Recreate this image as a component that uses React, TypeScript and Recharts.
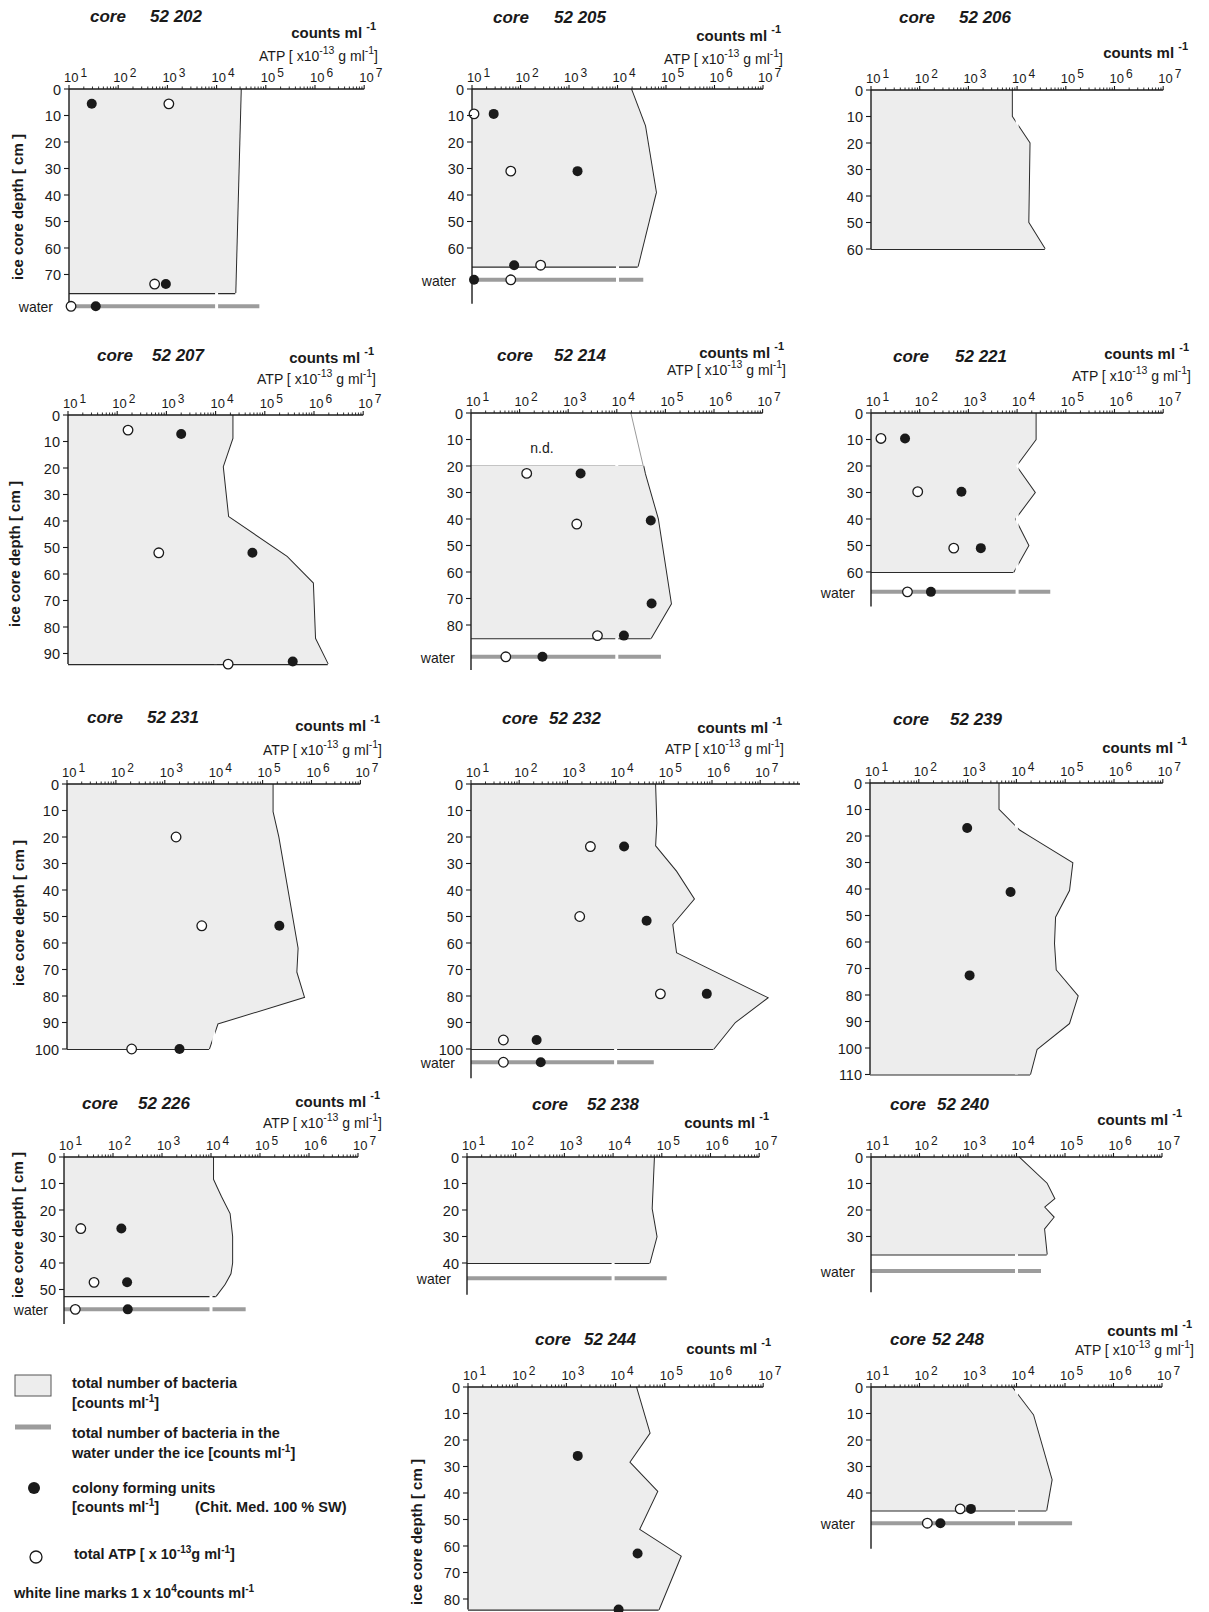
import React from 'react'
import { ComposedChart, Area, Line, Scatter, XAxis, YAxis, ReferenceLine } from 'recharts'

type Pair = [number, number] // [depth cm, value]
type Water = { bact: number; cfu?: number; atp?: number }

// core 52 202
const bact52202: Pair[] = [[0, 3.1e4], [77, 2.4e4]]
const cfu52202: Pair[] = [[5.6, 29], [73.6, 930]]
const atp52202: Pair[] = [[5.6, 1070], [73.6, 550]]
const water52202: Water = { bact: 7.4e4, cfu: 35, atp: 11 }

// core 52 205
const bact52205: Pair[] = [[0, 1.9e4], [14, 3.7e4], [39, 6.2e4], [67, 2.6e4]]
const cfu52205: Pair[] = [[9.4, 28], [31, 1500], [66.5, 74]]
const atp52205: Pair[] = [[9.4, 11], [31, 63], [66.5, 260]]
const water52205: Water = { bact: 3.4e4, cfu: 11, atp: 63 }

// core 52 206
const bact52206: Pair[] = [[0, 7.8e3], [10, 7.8e3], [20, 1.8e4], [50, 1.7e4], [60, 3.7e4]]

// core 52 207
const bact52207: Pair[] = [[0, 2.2e4], [8.8, 2.2e4], [19.5, 1.4e4], [38.4, 1.8e4], [53.5, 2.8e5], [63.5, 9.5e5], [84.3, 1.05e6], [94, 1.9e6]]
const cfu52207: Pair[] = [[7.2, 2000], [52, 5.6e4], [93, 3.7e5]]
const atp52207: Pair[] = [[5.7, 166], [52, 700], [94, 1.8e4]]

// core 52 214 (upper 20 cm n.d.)
const upper52214: Pair[] = [[0, 1.95e4], [20, 3.5e4]]
const bact52214: Pair[] = [[20, 3.5e4], [23, 3.8e4], [40, 7e4], [72, 1.3e5], [85, 5e4]]
const cfu52214: Pair[] = [[22.8, 1800], [40.6, 5e4], [71.9, 5.2e4], [84, 1.4e4]]
const atp52214: Pair[] = [[22.8, 140], [41.9, 1500], [84, 4000]]
const water52214: Water = { bact: 8.1e4, cfu: 295, atp: 52 }

// core 52 221
const bact52221: Pair[] = [[0, 2.4e4], [10, 2.4e4], [20, 9.5e3], [30, 2.3e4], [40, 9e3], [50, 1.7e4], [60, 8.4e3]]
const cfu52221: Pair[] = [[9.6, 50], [29.7, 720], [51, 1800]]
const atp52221: Pair[] = [[9.6, 16], [29.7, 91], [51, 500]]
const water52221: Water = { bact: 4.8e4, cfu: 170, atp: 56 }

// core 52 231
const bact52231: Pair[] = [[0, 1.6e5], [10.5, 1.6e5], [20, 2.1e5], [62, 5.2e5], [71, 4.9e5], [80.4, 7e5], [90.4, 1.2e4], [100, 8e3]]
const cfu52231: Pair[] = [[53.5, 2.2e5], [100, 2000]]
const atp52231: Pair[] = [[20, 1700], [53.5, 5700], [100, 210]]

// core 52 232
const bact52232: Pair[] = [[0, 6.6e4], [14.8, 7e4], [23.4, 6.6e4], [33, 1.8e5], [43.4, 4.2e5], [53, 1.5e5], [63.8, 1.8e5], [80.7, 1.4e7], [89.9, 3e6], [100, 1.07e6]]
const cfu52232: Pair[] = [[23.6, 1.5e4], [51.6, 4.4e4], [79.2, 7.8e5], [96.6, 230]]
const atp52232: Pair[] = [[23.6, 3000], [50, 1800], [79.2, 8.5e4], [96.6, 47]]
const water52232: Water = { bact: 6.2e4, cfu: 280, atp: 47 }

// core 52 239
const bact52239: Pair[] = [[0, 4300], [10, 4300], [17.9, 1.15e4], [20.4, 1.9e4], [30.2, 1.4e5], [40.5, 1.2e5], [50.6, 6.2e4], [60.6, 5.9e4], [70.6, 6.4e4], [80.4, 1.8e5], [90.7, 1.2e5], [100.5, 2.6e4], [110, 1.9e4]]
const cfu52239: Pair[] = [[17, 980], [41.1, 7600], [72.6, 1100]]

// core 52 226
const bact52226: Pair[] = [[0, 1.1e4], [8.5, 1.1e4], [11.4, 1.3e4], [15, 1.6e4], [21.4, 2.4e4], [30, 2.7e4], [40, 2.7e4], [44, 2.5e4], [48, 1.9e4], [52.5, 1.25e4]]
const cfu52226: Pair[] = [[27, 148], [47.3, 194]]
const atp52226: Pair[] = [[27, 22], [47.3, 41]]
const water52226: Water = { bact: 5.1e4, cfu: 200, atp: 17 }

// core 52 238
const bact52238: Pair[] = [[0, 6.9e4], [19.5, 6.2e4], [30.1, 7.8e4], [40, 5.6e4]]
const water52238: Water = { bact: 1.26e5 }

// core 52 240
const bact52240: Pair[] = [[0, 1.1e4], [10, 4.2e4], [15.7, 6e4], [18.9, 3.7e4], [22.7, 5.8e4], [27.1, 3.7e4], [36.8, 4.2e4]]
const water52240: Water = { bact: 3.2e4 }

// core 52 244
const bact52244: Pair[] = [[0, 2.6e4], [17.4, 4.9e4], [28.4, 1.9e4], [39.4, 7e4], [53.8, 3e4], [63.9, 2.1e5], [84, 7.5e4]]
const cfu52244: Pair[] = [[26, 1700], [62.8, 2.8e4], [84, 1.15e4]]

// core 52 248
const bact52248: Pair[] = [[0, 8e3], [10.6, 2.2e4], [35, 5.3e4], [46.6, 4.1e4]]
const cfu52248: Pair[] = [[46, 1150]]
const atp52248: Pair[] = [[46, 690]]
const water52248: Water = { bact: 1.4e5, cfu: 270, atp: 145 }

const FONT = '"Liberation Sans", Arial, Helvetica, sans-serif'
const INK = '#1a1a1a'
const FILL = '#ededed'
const PX_CM = 2.65
const YW = 62
const XH = 30
const RM = 26

interface Panel {
  core: string
  bact: Pair[]
  upper?: Pair[]
  cfu?: Pair[]
  atp?: Pair[]
  water?: Water
  left: number
  top: number
  decade: number
  depthMax: number
  yTickMax: number
  waterAt?: number
  xMax?: number
  coreX: number
  numX: number
  titleY: number
  unitsX: number
  countsY: number
  atpY?: number
  yLabel?: [number, number]
  note?: [string, number, number]
}

const panels: Panel[] = [
  { core: '52 202', bact: bact52202, cfu: cfu52202, atp: atp52202, water: water52202, left: 69, top: 89, decade: 49.2, depthMax: 83, yTickMax: 70, waterAt: 82, coreX: 90, numX: 150, titleY: 16, unitsX: 376, countsY: 32, atpY: 56, yLabel: [17, 207] },
  { core: '52 205', bact: bact52205, cfu: cfu52205, atp: atp52205, water: water52205, left: 472, top: 89, decade: 48.5, depthMax: 81, yTickMax: 60, waterAt: 72, coreX: 493, numX: 554, titleY: 17, unitsX: 781, countsY: 35, atpY: 59 },
  { core: '52 206', bact: bact52206, left: 871, top: 90, decade: 48.7, depthMax: 60, yTickMax: 60, coreX: 899, numX: 959, titleY: 17, unitsX: 1188, countsY: 52 },
  { core: '52 207', bact: bact52207, cfu: cfu52207, atp: atp52207, left: 68, top: 415, decade: 49.2, depthMax: 94, yTickMax: 90, coreX: 97, numX: 152, titleY: 355, unitsX: 374, countsY: 357, atpY: 379, yLabel: [14, 554] },
  { core: '52 214', bact: bact52214, upper: upper52214, cfu: cfu52214, atp: atp52214, water: water52214, left: 471, top: 413, decade: 48.6, depthMax: 97, yTickMax: 80, waterAt: 92, coreX: 497, numX: 554, titleY: 355, unitsX: 784, countsY: 352, atpY: 370, note: ['n.d.', 542, 448] },
  { core: '52 221', bact: bact52221, cfu: cfu52221, atp: atp52221, water: water52221, left: 871, top: 413, decade: 48.7, depthMax: 73, yTickMax: 60, waterAt: 67.5, coreX: 893, numX: 955, titleY: 356, unitsX: 1189, countsY: 353, atpY: 376 },
  { core: '52 231', bact: bact52231, cfu: cfu52231, atp: atp52231, left: 67, top: 784, decade: 48.9, depthMax: 100, yTickMax: 100, coreX: 87, numX: 147, titleY: 717, unitsX: 380, countsY: 725, atpY: 750, yLabel: [18, 913] },
  { core: '52 232', bact: bact52232, cfu: cfu52232, atp: atp52232, water: water52232, left: 471, top: 784, decade: 48.2, depthMax: 111, yTickMax: 100, waterAt: 105, xMax: 6.7e7, coreX: 502, numX: 549, titleY: 718, unitsX: 782, countsY: 727, atpY: 749 },
  { core: '52 239', bact: bact52239, cfu: cfu52239, left: 870, top: 783, decade: 48.8, depthMax: 110, yTickMax: 110, coreX: 893, numX: 950, titleY: 719, unitsX: 1187, countsY: 747 },
  { core: '52 226', bact: bact52226, cfu: cfu52226, atp: atp52226, water: water52226, left: 64, top: 1157, decade: 49, depthMax: 63, yTickMax: 50, waterAt: 57.5, coreX: 82, numX: 138, titleY: 1103, unitsX: 380, countsY: 1101, atpY: 1123, yLabel: [17, 1225] },
  { core: '52 238', bact: bact52238, water: water52238, left: 467, top: 1157, decade: 48.7, depthMax: 52, yTickMax: 40, waterAt: 45.8, coreX: 532, numX: 587, titleY: 1104, unitsX: 769, countsY: 1122 },
  { core: '52 240', bact: bact52240, water: water52240, left: 871, top: 1157, decade: 48.5, depthMax: 51, yTickMax: 30, waterAt: 43, coreX: 890, numX: 937, titleY: 1104, unitsX: 1182, countsY: 1119 },
  { core: '52 244', bact: bact52244, cfu: cfu52244, left: 468, top: 1387, decade: 49.2, depthMax: 84, yTickMax: 80, coreX: 535, numX: 584, titleY: 1339, unitsX: 771, countsY: 1348, yLabel: [416, 1532] },
  { core: '52 248', bact: bact52248, cfu: cfu52248, atp: atp52248, water: water52248, left: 871, top: 1387, decade: 48.5, depthMax: 61, yTickMax: 40, waterAt: 51.4, coreX: 890, numX: 932, titleY: 1339, unitsX: 1192, countsY: 1330, atpY: 1350 },
]

const toPts = (a: Pair[]) => a.map(([depth, counts]) => ({ depth, counts }))

function logTicks(xMax: number) {
  const out: number[] = []
  for (let e = 1; e <= 8; e++) {
    for (let m = 1; m <= 9; m++) {
      const v = m * Math.pow(10, e)
      if (v <= xMax * 1.0001) out.push(v)
    }
  }
  return out
}

function XTick(props: any) {
  const { x, y, payload } = props
  const lg = Math.log10(payload.value)
  const e = Math.round(lg)
  if (Math.abs(lg - e) > 1e-6) {
    return <line x1={x} x2={x} y1={y} y2={y - 2.5} stroke={INK} strokeWidth={0.9} />
  }
  if (e > 7) return <g />
  return (
    <g>
      <line x1={x} x2={x} y1={y} y2={y - 4} stroke={INK} strokeWidth={1.1} />
      <text x={x - 5} y={y - 7} fontSize={13} fill={INK} fontFamily={FONT}>
        10
        <tspan dx={2} dy={-5} fontSize={12}>
          {e}
        </tspan>
      </text>
    </g>
  )
}

function YTick(props: any) {
  const { x, y, payload, waterAt } = props
  const v = payload.value
  if (waterAt != null && v === waterAt) {
    return (
      <text x={x - 16} y={y + 1} textAnchor="end" dominantBaseline="central" fontSize={14} fill={INK} fontFamily={FONT}>
        water
      </text>
    )
  }
  return (
    <g>
      <line x1={x - 5} x2={x} y1={y} y2={y} stroke={INK} strokeWidth={1.1} />
      <text x={x - 8} y={y + 1} textAnchor="end" dominantBaseline="central" fontSize={14.5} fill={INK} fontFamily={FONT}>
        {v}
      </text>
    </g>
  )
}

const blackDot = (s: any) => <circle cx={s.cx} cy={s.cy} r={5} fill={INK} />
const openDot = (s: any) => <circle cx={s.cx} cy={s.cy} r={4.8} fill="#fff" stroke={INK} strokeWidth={1.3} />

function CorePanel({ p }: { p: Panel }) {
  const xMax = p.xMax ?? 1e7
  const plotW = p.decade * Math.log10(xMax / 10)
  const plotH = p.depthMax * PX_CM
  const bact = toPts(p.bact)
  const first = bact[0]
  const last = bact[bact.length - 1]
  const bottomEdge = [{ depth: last.depth, counts: 10 }, { depth: last.depth, counts: last.counts }]
  const topEdge = first.depth > 0 ? [{ depth: first.depth, counts: 10 }, first] : null
  const upper = p.upper ? toPts(p.upper) : null
  const cfu = toPts(p.cfu ?? [])
  const atp = toPts(p.atp ?? [])
  let waterLine: { depth: number; counts: number }[] | null = null
  if (p.water && p.waterAt != null) {
    waterLine = [{ depth: p.waterAt, counts: 10 }, { depth: p.waterAt, counts: p.water.bact }]
    if (p.water.cfu != null) cfu.push({ depth: p.waterAt, counts: p.water.cfu })
    if (p.water.atp != null) atp.push({ depth: p.waterAt, counts: p.water.atp })
  }
  const yTicks: number[] = []
  for (let d = 0; d <= p.yTickMax; d += 10) yTicks.push(d)
  if (p.waterAt != null) yTicks.push(p.waterAt)
  const whiteEnd = Math.min(p.depthMax, (p.waterAt ?? last.depth) + 1.5)

  return (
    <div style={{ position: 'absolute', left: p.left - YW, top: p.top - XH }}>
      <ComposedChart
        layout="vertical"
        width={YW + plotW + RM}
        height={XH + plotH + 8}
        margin={{ top: 0, right: RM, bottom: 8, left: 0 }}
      >
        <XAxis
          type="number"
          scale="log"
          domain={[10, xMax]}
          orientation="top"
          height={XH}
          ticks={logTicks(xMax)}
          interval={0}
          tick={XTick}
          tickLine={false}
          tickSize={0}
          tickMargin={0}
          axisLine={{ stroke: INK, strokeWidth: 1.4 }}
        />
        <YAxis
          type="number"
          dataKey="depth"
          domain={[0, p.depthMax]}
          width={YW}
          ticks={yTicks}
          interval={0}
          tick={(t: any) => <YTick {...t} waterAt={p.waterAt} />}
          tickLine={false}
          tickSize={0}
          tickMargin={0}
          axisLine={{ stroke: INK, strokeWidth: 1.4 }}
        />
        {/* profile outline first, white 10^4 mark over it, then the fill covers the mark inside */}
        <Line data={bact} dataKey="counts" stroke="#2a2a2a" strokeWidth={2} dot={false} isAnimationActive={false} zIndex={400} />
        <Line data={bottomEdge} dataKey="counts" stroke="#2a2a2a" strokeWidth={2.2} dot={false} isAnimationActive={false} zIndex={400} />
        {upper && (
          <Line data={upper} dataKey="counts" stroke="#9a9a9a" strokeWidth={1} dot={false} isAnimationActive={false} zIndex={400} />
        )}
        {topEdge && (
          <Line data={topEdge} dataKey="counts" stroke="#c4c4c4" strokeWidth={2} dot={false} isAnimationActive={false} zIndex={400} />
        )}
        {waterLine && (
          <Line data={waterLine} dataKey="counts" stroke="#9c9c9c" strokeWidth={4} dot={false} isAnimationActive={false} zIndex={400} />
        )}
        <ReferenceLine
          segment={[{ x: 1e4, y: 0.8 }, { x: 1e4, y: whiteEnd }]}
          stroke="#ffffff"
          strokeWidth={3}
          zIndex={450}
        />
        <Area
          data={bact}
          dataKey="counts"
          type="linear"
          baseValue={10}
          fill={FILL}
          fillOpacity={1}
          stroke="none"
          dot={false}
          activeDot={false}
          isAnimationActive={false}
          zIndex={460}
        />
        {atp.length > 0 && (
          <Scatter data={atp} dataKey="counts" shape={openDot} isAnimationActive={false} zIndex={600} />
        )}
        {cfu.length > 0 && (
          <Scatter data={cfu} dataKey="counts" shape={blackDot} isAnimationActive={false} zIndex={600} />
        )}
      </ComposedChart>
    </div>
  )
}

const sup = (s: string, size = 11) => (
  <tspan dy={-6} fontSize={size}>
    {s}
  </tspan>
)

function PanelText({ p }: { p: Panel }) {
  return (
    <g fill={INK} fontFamily={FONT}>
      <text x={p.coreX} y={p.titleY} fontSize={17} fontWeight="bold" fontStyle="italic" dominantBaseline="central">
        core
      </text>
      <text x={p.numX} y={p.titleY} fontSize={17} fontWeight="bold" fontStyle="italic" dominantBaseline="central">
        {p.core}
      </text>
      <text x={p.unitsX} y={p.countsY} fontSize={15} fontWeight="bold" textAnchor="end" dominantBaseline="central">
        counts ml {sup('-1')}
      </text>
      {p.atpY != null && (
        <text x={p.unitsX + 2} y={p.atpY} fontSize={14} textAnchor="end" dominantBaseline="central">
          ATP [ x10{sup('-13', 10.5)}
          <tspan dy={6}> g  ml</tspan>
          {sup('-1', 10.5)}
          <tspan dy={6}>]</tspan>
        </text>
      )}
      {p.yLabel && (
        <text
          x={p.yLabel[0]}
          y={p.yLabel[1]}
          transform={`rotate(-90 ${p.yLabel[0]} ${p.yLabel[1]})`}
          fontSize={15}
          fontWeight="bold"
          textAnchor="middle"
          dominantBaseline="central"
        >
          ice core depth [ cm ]
        </text>
      )}
      {p.note && (
        <text x={p.note[1]} y={p.note[2]} fontSize={14} textAnchor="middle" dominantBaseline="central">
          {p.note[0]}
        </text>
      )}
    </g>
  )
}

function LegendBlock() {
  const t = { fontSize: 14.5, fontWeight: 'bold' as const, fill: INK, fontFamily: FONT }
  return (
    <g>
      <rect x={15} y={1375} width={36} height={21} fill={FILL} stroke="#555" strokeWidth={1} />
      <text x={72} y={1388} {...t}>total number of bacteria</text>
      <text x={72} y={1408} {...t}>[counts ml{sup('-1', 10)}<tspan dy={6}>]</tspan></text>

      <line x1={15} x2={51} y1={1427} y2={1427} stroke="#9c9c9c" strokeWidth={5} />
      <text x={72} y={1438} {...t}>total number of bacteria in the</text>
      <text x={72} y={1458} {...t}>water under the ice [counts ml{sup('-1', 10)}<tspan dy={6}>]</tspan></text>

      <circle cx={34} cy={1488} r={6} fill={INK} />
      <text x={72} y={1493} {...t}>colony forming units</text>
      <text x={72} y={1512} {...t}>[counts ml{sup('-1', 10)}<tspan dy={6}>]</tspan></text>
      <text x={195} y={1512} {...t}>(Chit. Med. 100 % SW)</text>

      <circle cx={36} cy={1557} r={6} fill="#fff" stroke={INK} strokeWidth={1.3} />
      <text x={74} y={1559} {...t}>total ATP [ x 10{sup('-13', 10)}<tspan dy={6}>g ml</tspan>{sup('-1', 10)}<tspan dy={6}>]</tspan></text>

      <text x={14} y={1598} {...t}>white line marks 1 x 10{sup('4', 10)}<tspan dy={6}>counts ml</tspan>{sup('-1', 10)}</text>
    </g>
  )
}

export default function App() {
  return (
    <div style={{ position: 'relative', width: 1209, height: 1612, overflow: 'hidden', background: '#fff' }}>
      <style>{'body{margin:0}'}</style>
      {panels.map((p) => (
        <CorePanel key={p.core} p={p} />
      ))}
      <svg width={1209} height={1612} style={{ position: 'absolute', left: 0, top: 0, pointerEvents: 'none' }}>
        {panels.map((p) => (
          <PanelText key={p.core} p={p} />
        ))}
        <LegendBlock />
      </svg>
    </div>
  )
}
